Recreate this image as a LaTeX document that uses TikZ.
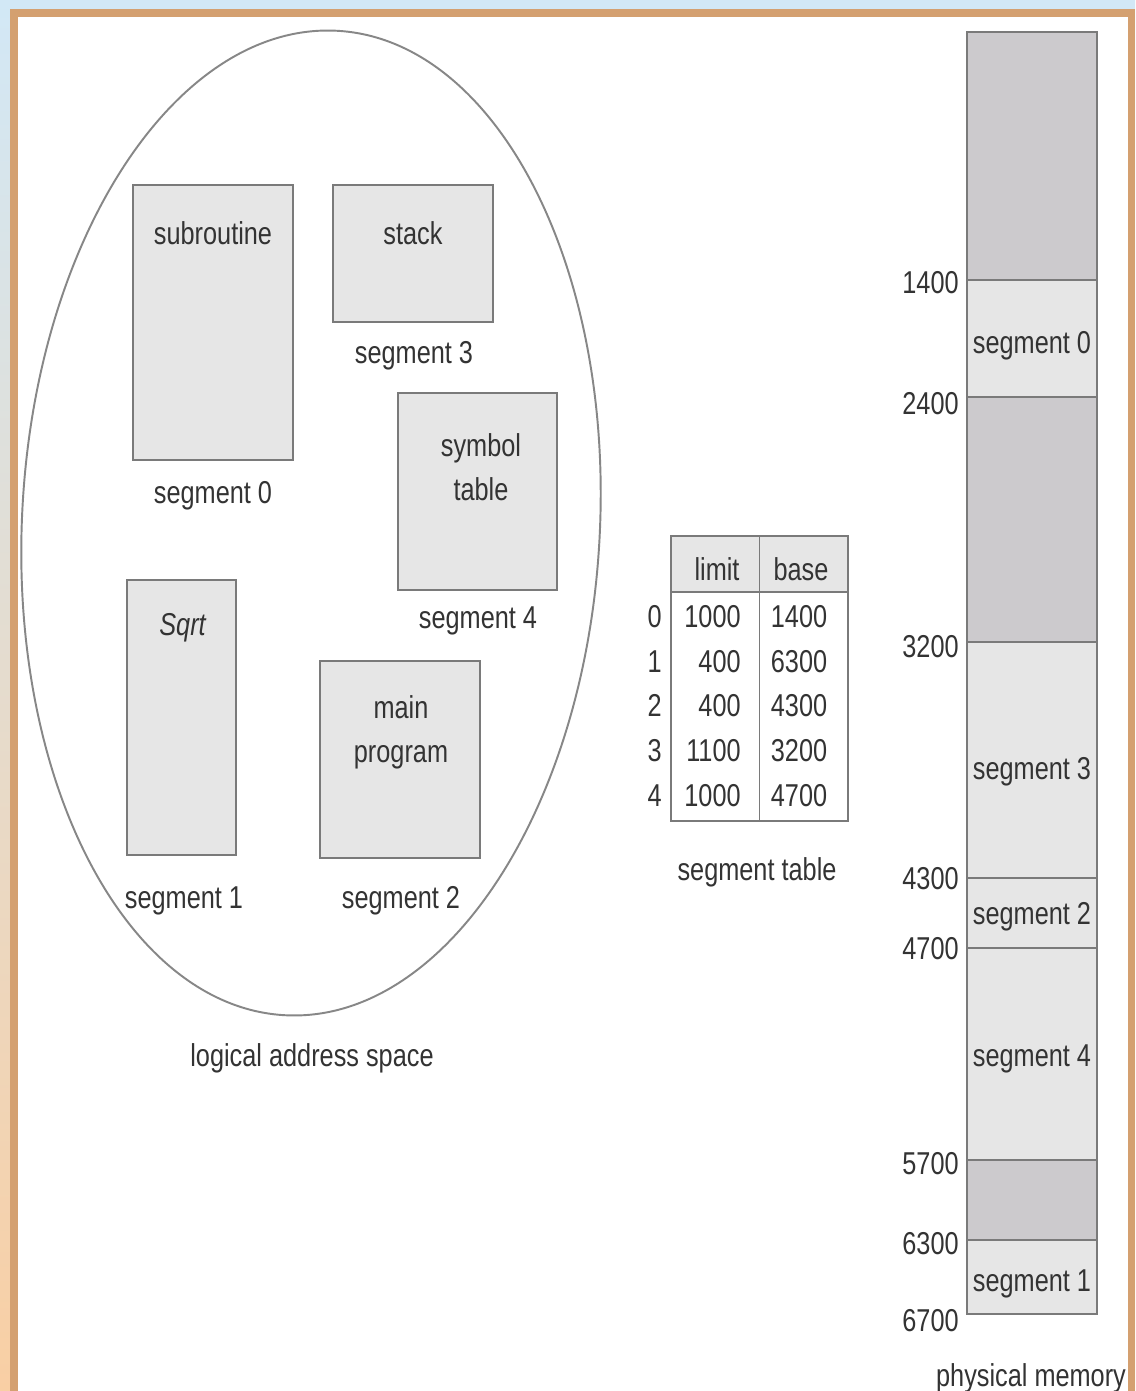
\documentclass[tikz,border=0pt]{standalone}
\usepackage{fontspec}
\setmainfont{Liberation Sans}[FakeStretch=0.8]
\usetikzlibrary{positioning,fit,shapes.geometric}
\definecolor{frameTan}{HTML}{D4A070}
\definecolor{edgeBlue}{HTML}{D2E8F6}
\definecolor{edgePeach}{HTML}{F9CFA4}
\definecolor{segFill}{HTML}{E6E6E6}
\definecolor{holeFill}{HTML}{CCCACD}
\definecolor{lineGray}{HTML}{7A7A7A}
\definecolor{inkGray}{HTML}{333333}

\begin{document}
\begin{tikzpicture}[
        x=0.02cm, y=-0.02cm,
        seg/.style={rectangle, draw=lineGray, fill=segFill, line width=1.4pt, inner sep=0pt},
        hole/.style={seg, fill=holeFill},
        tabhead/.style={rectangle, draw=lineGray, fill=segFill, line width=1.1pt, inner sep=0pt},
        tabcell/.style={tabhead, fill=white},
        txt/.style={inner sep=0pt, text=inkGray, font=\fontsize{18}{25}\selectfont, text height=13pt, text depth=3.6pt},
        multi/.style={inner sep=0pt, text=inkGray, font=\fontsize{18}{25}\selectfont, align=center},
        addr/.style={txt, anchor=east},
        frameline/.style={draw=frameTan, line width=4pt}
      ]
        \useasboundingbox (0,0) rectangle (1135,1391);
        % slide frame
        \shade[top color=edgeBlue, bottom color=edgePeach] (0,0) rectangle (1135,1391);
        \fill[white] (14,13) rectangle (1131,1391);
        \draw[frameline] (14,1391) -- (14,13) -- (1131,13) -- (1131,1391);

        % logical address space
        \node[ellipse, draw=lineGray!90, line width=1.1pt, rotate=-3, inner sep=0pt,
              minimum width=11.56cm, minimum height=19.72cm] (space) at (311,523) {};
        \node[seg, fit={(133,185) (293,460)}] (sub) {};
        \node[seg, fit={(333,185) (493,322)}] (stack) {};
        \node[seg, fit={(398,393) (557,590)}] (sym) {};
        \node[seg, fit={(127,580) (236,855)}] (sqrt) {};
        \node[seg, fit={(320,661) (480,858)}] (main) {};
        \node[txt] (subT) at (213,236) {subroutine};
        \node[txt] (stackT) at (413,236) {stack};
        \node[multi] (symT) at (481,467) {symbol\\table};
        \node[txt] (sqrtT) at (183,627) {\textit{Sqrt}};
        \node[multi] (mainT) at (401,732) {main\\program};
        \node[txt] (subC) at (213,495) {segment 0};
        \node[txt] (stackC) at (414,355) {segment 3};
        \node[txt] (symC) at (478,620) {segment 4};
        \node[txt] (sqrtC) at (184,900) {segment 1};
        \node[txt] (mainC) at (401,900) {segment 2};
        \node[txt] (spaceC) at (312,1058) {logical address space};

        % segment table
        \node[tabhead, fit={(671,536) (848,592)}] (head) {};
        \node[tabcell, fit={(671,592) (848,821)}] (rows) {};
        \draw[line width=1.1pt, draw=lineGray] (head.north) -- (rows.south);
        \node[txt] (limitH) at (717,572) {limit};
        \node[txt] (baseH) at (801,572) {base};
        \node[addr] (i0) at (662,619) {0};
        \node[addr] (i1) at (662,664) {1};
        \node[addr] (i2) at (662,708) {2};
        \node[addr] (i3) at (662,753) {3};
        \node[addr] (i4) at (662,798) {4};
        \node[addr] (l0) at (741,619) {1000};
        \node[addr] (l1) at (741,664) {400};
        \node[addr] (l2) at (741,708) {400};
        \node[addr] (l3) at (741,753) {1100};
        \node[addr] (l4) at (741,798) {1000};
        \node[txt] (b0) at (799,619) {1400};
        \node[txt] (b1) at (799,664) {6300};
        \node[txt] (b2) at (799,708) {4300};
        \node[txt] (b3) at (799,753) {3200};
        \node[txt] (b4) at (799,798) {4700};
        \node[txt] (tabC) at (757,872) {segment table};

        % physical memory
        \node[hole, fit={(967,32) (1097,280)}] (hole0) {};
        \node[seg, fit={(967,280) (1097,397)}] (mem0) {};
        \node[hole, fit={(967,397) (1097,642)}] (hole1) {};
        \node[seg, fit={(967,642) (1097,878)}] (mem3) {};
        \node[seg, fit={(967,878) (1097,948)}] (mem2) {};
        \node[seg, fit={(967,948) (1097,1160)}] (mem4) {};
        \node[hole, fit={(967,1160) (1097,1240)}] (hole2) {};
        \node[seg, fit={(967,1240) (1097,1314)}] (mem1) {};
        \node[txt] (mem0T) at (1032,345) {segment 0};
        \node[txt] (mem3T) at (1032,771) {segment 3};
        \node[txt] (mem2T) at (1032,916) {segment 2};
        \node[txt] (mem4T) at (1032,1058) {segment 4};
        \node[txt] (mem1T) at (1032,1283) {segment 1};
        \node[addr] (a1400) at (959,285) {1400};
        \node[addr] (a2400) at (959,406) {2400};
        \node[addr] (a3200) at (959,649) {3200};
        \node[addr] (a4300) at (959,881) {4300};
        \node[addr] (a4700) at (959,951) {4700};
        \node[addr] (a5700) at (959,1166) {5700};
        \node[addr] (a6300) at (959,1246) {6300};
        \node[addr] (a6700) at (959,1323) {6700};
        \node[txt] (memC) at (1031,1378) {physical memory};
      \end{tikzpicture}
\end{document}
